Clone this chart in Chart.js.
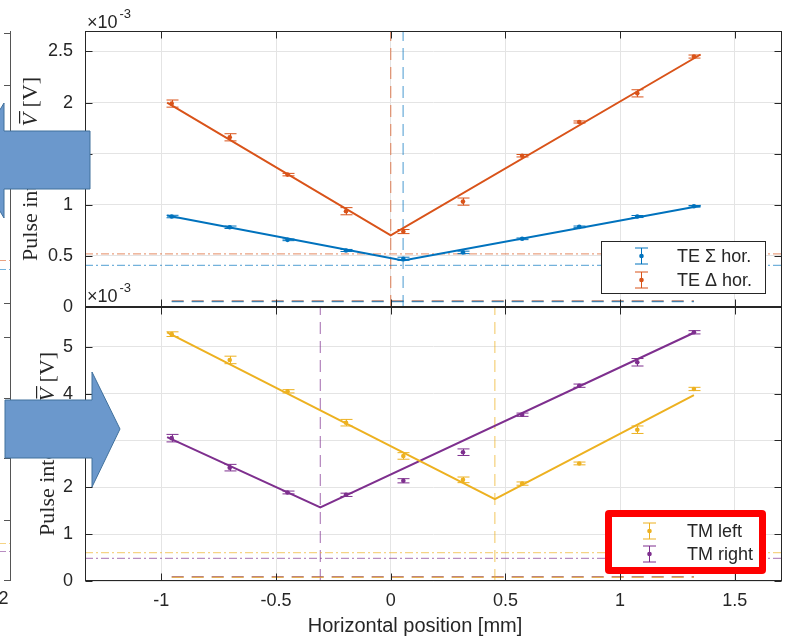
<!DOCTYPE html>
<html>
<head>
<meta charset="utf-8">
<script src="https://cdn.jsdelivr.net/npm/chart.js@4.4.0/dist/chart.umd.min.js"></script>
<style>
  html, body { margin: 0; padding: 0; background: #fff; }
  #wrap { position: relative; width: 786px; height: 641px; overflow: hidden; }
  #wrap canvas, #arrows { position: absolute; left: 0; top: 0; }
</style>
</head>
<body>
<div id="wrap">
  <canvas id="strip" width="786" height="641"></canvas>
  <canvas id="teChart" width="786" height="641"></canvas>
  <canvas id="tmChart" width="786" height="641"></canvas>
  <svg id="arrows" width="786" height="641">
    <polygon points="90,131 4,131 4,103 -30,160 4,218 4,189 90,189" fill="#6b98cc" stroke="#41719c" stroke-width="1"/>
    <polygon points="5,400 92,400 92,372 120,429 92,487 92,458 5,458" fill="#6b98cc" stroke="#41719c" stroke-width="1"/>
  </svg>
</div>
<script>
// horizontal scan positions [mm]
const xPos = [-0.955, -0.702, -0.450, -0.195, 0.055, 0.315, 0.573, 0.822, 1.075, 1.322];
const xRange = [-1.333, 1.706];
const xTicks = [-1, -0.5, 0, 0.5, 1, 1.5];

// TE panel (x1e-3 V)
const teSumHor  = [0.885, 0.780, 0.657, 0.553, 0.472, 0.534, 0.667, 0.784, 0.885, 0.985];
const teSumErr  = [0.012, 0.012, 0.008, 0.010, 0.015, 0.012, 0.008, 0.008, 0.010, 0.008];
const teDiffHor = [1.990, 1.660, 1.295, 0.937, 0.738, 1.031, 1.480, 1.810, 2.090, 2.450];
const teDiffErr = [0.035, 0.035, 0.012, 0.035, 0.020, 0.035, 0.012, 0.010, 0.035, 0.015];
const teSumFitX  = [-0.975, 0.054, 1.351];
const teSumFitY  = [0.895, 0.455, 0.990];
const teDiffFitX = [-0.975, 0.0, 1.351];
const teDiffFitY = [2.000, 0.700, 2.470];
const teLevels = [0.407, 0.520];   // Σ, Δ
const teNoise  = [0.055, 0.058];
const teYRange = [0, 2.7];
const teYTicks = [0, 0.5, 1, 1.5, 2, 2.5];

// TM panel (x1e-3 V)
const tmLeft     = [5.27, 4.72, 4.05, 3.38, 2.67, 2.16, 2.08, 2.51, 3.23, 4.10];
const tmLeftErr  = [0.05, 0.08, 0.035, 0.07, 0.07, 0.06, 0.035, 0.03, 0.08, 0.035];
const tmRight    = [3.05, 2.42, 1.89, 1.84, 2.14, 2.75, 3.55, 4.17, 4.67, 5.31];
const tmRightErr = [0.08, 0.07, 0.03, 0.035, 0.045, 0.07, 0.035, 0.035, 0.08, 0.035];
const tmLeftFitX  = [-0.975, 0.454, 1.322];
const tmLeftFitY  = [5.31, 1.75, 3.97];
const tmRightFitX = [-0.975, -0.307, 1.322];
const tmRightFitY = [3.07, 1.57, 5.30];
const tmLevels = [0.605, 0.485];   // left, right
const tmNoise  = [0.080, 0.090];
const tmYRange = [0, 5.85];
const tmYTicks = [0, 1, 2, 3, 4, 5];

const SANS = '"Liberation Sans", Arial, Helvetica, sans-serif';
const SERIF = '"Liberation Serif", "Times New Roman", serif';
const INK = '#262626';
const BLUE = '#0072BD', ORANGE = '#D95319', YELLOW = '#EDB120', PURPLE = '#7E2F8E';

function fade(hex, a) {
  const n = parseInt(hex.slice(1), 16);
  return `rgba(${n >> 16},${(n >> 8) & 255},${n & 255},${a})`;
}

const errorBars = {
  id: 'errorBars',
  afterDatasetsDraw(chart) {
    const { ctx, scales: { x, y } } = chart;
    chart.data.datasets.forEach(ds => {
      if (!ds.errors) return;
      ctx.save();
      ctx.strokeStyle = ds.barColor;
      ctx.lineWidth = 1;
      ds.data.forEach((p, i) => {
        const px = Math.round(x.getPixelForValue(p.x)) + 0.5;
        const lo = y.getPixelForValue(p.y - ds.errors[i]);
        const hi = y.getPixelForValue(p.y + ds.errors[i]);
        ctx.beginPath();
        ctx.moveTo(px, lo); ctx.lineTo(px, hi);
        ctx.moveTo(px - 6, lo); ctx.lineTo(px + 6, lo);
        ctx.moveTo(px - 6, hi); ctx.lineTo(px + 6, hi);
        ctx.stroke();
      });
      ctx.restore();
    });
  }
};

function drawGlyph(ctx, cx, cy, color) {
  ctx.strokeStyle = color; ctx.fillStyle = color; ctx.lineWidth = 1;
  ctx.beginPath();
  ctx.moveTo(cx + 0.5, cy - 8); ctx.lineTo(cx + 0.5, cy + 8);
  ctx.moveTo(cx - 6, cy - 8); ctx.lineTo(cx + 7, cy - 8);
  ctx.moveTo(cx - 6, cy + 8); ctx.lineTo(cx + 7, cy + 8);
  ctx.stroke();
  ctx.beginPath(); ctx.arc(cx + 0.5, cy, 2.3, 0, Math.PI * 2); ctx.fill();
}

// MATLAB-like box, inward ticks, exponent, y label and legend
const frame = {
  id: 'frame',
  afterDraw(chart, args, o) {
    const { ctx, chartArea: a, scales: { x, y } } = chart;
    ctx.save();
    const L = Math.round(a.left) + 0.5, R = Math.round(a.right) - 0.5;
    const T = Math.round(a.top) + 0.5, B = Math.round(a.bottom) - 0.5;
    ctx.strokeStyle = INK; ctx.lineWidth = 1;
    ctx.strokeRect(L, T, R - L, B - T);
    ctx.beginPath();
    x.ticks.forEach(t => {
      const px = Math.round(x.getPixelForValue(t.value)) + 0.5;
      ctx.moveTo(px, T); ctx.lineTo(px, T + 7);
      ctx.moveTo(px, B); ctx.lineTo(px, B - 7);
    });
    y.ticks.forEach(t => {
      const py = Math.round(y.getPixelForValue(t.value)) + 0.5;
      ctx.moveTo(L, py); ctx.lineTo(L + 7, py);
      ctx.moveTo(R, py); ctx.lineTo(R - 7, py);
    });
    ctx.stroke();

    // x10^-3 exponent
    ctx.fillStyle = INK; ctx.textAlign = 'left'; ctx.textBaseline = 'alphabetic';
    ctx.font = `18px ${SANS}`;
    ctx.fillText('\u00d710', a.left + 2, a.top - o.expGap);
    const w = ctx.measureText('\u00d710').width;
    ctx.font = `13px ${SANS}`;
    ctx.fillText('-3', a.left + 4 + w, a.top - o.expGap - 10);

    // y label: Pulse intensity \bar{V} [V]
    ctx.save();
    ctx.translate(o.yTitleX, (a.top + a.bottom) / 2);
    ctx.rotate(-Math.PI / 2);
    const parts = [
      { t: 'Pulse intensity ', f: `22px ${SERIF}` },
      { t: 'V', f: `italic 22px ${SERIF}`, bar: true },
      { t: ' [V]', f: `22px ${SERIF}` }
    ];
    let total = 0;
    parts.forEach(p => { ctx.font = p.f; p.w = ctx.measureText(p.t).width; total += p.w; });
    let cx = -total / 2;
    parts.forEach(p => {
      ctx.font = p.f;
      ctx.fillText(p.t, cx, 0);
      if (p.bar) {
        ctx.fillRect(cx + 3, -18, p.w - 1, 1.2);
      }
      cx += p.w;
    });
    ctx.restore();

    // x label
    if (o.xTitle) {
      ctx.font = `20px ${SANS}`; ctx.textAlign = 'center'; ctx.textBaseline = 'middle';
      ctx.fillText(o.xTitle, o.xTitleX, o.xTitleY);
    }

    // legend
    const lg = o.legend;
    if (lg.red) {
      ctx.fillStyle = '#fe0000';
      ctx.beginPath(); ctx.roundRect(lg.x, lg.y, lg.w, lg.h, 4); ctx.fill();
      ctx.fillStyle = '#fff';
      ctx.fillRect(lg.x + lg.red, lg.y + lg.red, lg.w - 2 * lg.red, lg.h - 2 * lg.red);
    } else {
      ctx.fillStyle = '#fff';
      ctx.fillRect(lg.x, lg.y, lg.w, lg.h);
      ctx.strokeStyle = INK;
      ctx.strokeRect(lg.x, lg.y, lg.w, lg.h);
    }
    ctx.font = `18px ${SANS}`; ctx.textAlign = 'left'; ctx.textBaseline = 'middle';
    lg.items.forEach((it, i) => {
      drawGlyph(ctx, lg.glyphX, lg.rows[i], it.color);
      ctx.fillStyle = INK;
      ctx.fillText(it.name, lg.textX, lg.rows[i] + 1);
    });
    ctx.restore();
  }
};

function buildDatasets(series, yRange) {
  const ds = [];
  series.forEach(s => {
    const pts = (xs, ys) => xs.map((v, i) => ({ x: v, y: ys[i] }));
    ds.push({ data: pts(s.fitX, s.fitY), borderColor: s.color, borderWidth: 2, pointRadius: 0, order: 1 });
    ds.push({ data: pts(xPos, s.y), showLine: false, pointRadius: 2.3, pointBorderWidth: 0,
      pointBackgroundColor: s.color, errors: s.err, barColor: s.color, order: 0 });
    ds.push({ data: pts(xRange, [s.level, s.level]), borderColor: fade(s.color, 0.55), borderWidth: 1.2,
      borderDash: [8, 3, 2, 3], pointRadius: 0, order: 2 });
    ds.push({ data: pts([xPos[0], xPos[xPos.length - 1]], [s.noise, s.noise]), borderColor: fade(s.color, 0.7),
      borderWidth: 1.5, borderDash: [12, 8], pointRadius: 0, order: 2 });
    ds.push({ data: pts([s.fitX[1], s.fitX[1]], yRange), borderColor: fade(s.color, 0.6), borderWidth: 1.2,
      borderDash: [12, 7], pointRadius: 0, order: 2 });
  });
  return ds;
}

function panel(id, series, yRange, yTicks, pad, showX, frameOpts) {
  const xHeight = showX ? 32 : 0;
  return new Chart(document.getElementById(id), {
    type: 'line',
    data: { datasets: buildDatasets(series, yRange) },
    options: {
      responsive: false,
      animation: false,
      events: [],
      layout: { padding: { left: pad.left, right: pad.right, top: pad.top, bottom: pad.bottom - xHeight } },
      plugins: { legend: { display: false }, tooltip: { enabled: false }, frame: frameOpts },
      scales: {
        x: {
          type: 'linear', min: xRange[0], max: xRange[1],
          afterBuildTicks: s => { s.ticks = xTicks.map(v => ({ value: v })); },
          afterFit: s => { s.height = xHeight; },
          grid: { color: '#e4e4e4', drawTicks: false },
          border: { display: false },
          ticks: { display: showX, padding: 9, maxRotation: 0, autoSkip: false, color: INK,
            font: { family: SANS, size: 18 }, callback: v => String(v) }
        },
        y: {
          min: yRange[0], max: yRange[1],
          afterBuildTicks: s => { s.ticks = yTicks.map(v => ({ value: v })); },
          afterFit: s => { s.width = 85; },
          grid: { color: '#e4e4e4', drawTicks: false },
          border: { display: false },
          ticks: { padding: 12, color: INK, font: { family: SANS, size: 18 }, callback: v => String(v) }
        }
      }
    },
    plugins: [errorBars, frame]
  });
}

const teSeries = [
  { name: 'TE \u03a3 hor.', color: BLUE, y: teSumHor, err: teSumErr, fitX: teSumFitX, fitY: teSumFitY, level: teLevels[0], noise: teNoise[0] },
  { name: 'TE \u0394 hor.', color: ORANGE, y: teDiffHor, err: teDiffErr, fitX: teDiffFitX, fitY: teDiffFitY, level: teLevels[1], noise: teNoise[1] }
];
const tmSeries = [
  { name: 'TM left', color: YELLOW, y: tmLeft, err: tmLeftErr, fitX: tmLeftFitX, fitY: tmLeftFitY, level: tmLevels[0], noise: tmNoise[0] },
  { name: 'TM right', color: PURPLE, y: tmRight, err: tmRightErr, fitX: tmRightFitX, fitY: tmRightFitY, level: tmLevels[1], noise: tmNoise[1] }
];

panel('teChart', teSeries, teYRange, teYTicks, { left: 0, right: 3, top: 31, bottom: 334 }, false, {
  expGap: 3, yTitleX: 37,
  legend: { x: 601.5, y: 241.5, w: 164, h: 52, rows: [256, 280], glyphX: 641, textX: 677,
    items: teSeries.map(s => ({ name: s.name, color: s.color })) }
});
panel('tmChart', tmSeries, tmYRange, tmYTicks, { left: 0, right: 3, top: 307, bottom: 60 }, true, {
  expGap: 5, yTitleX: 54,
  xTitle: 'Horizontal position [mm]', xTitleX: 415, xTitleY: 626,
  legend: { x: 605, y: 510, w: 161, h: 64, red: 7, rows: [531, 554], glyphX: 649, textX: 687,
    items: tmSeries.map(s => ({ name: s.name, color: s.color })) }
});

// edge of the neighbouring figure on the left
(function () {
  const ctx = document.getElementById('strip').getContext('2d');
  ctx.strokeStyle = '#555'; ctx.lineWidth = 1;
  ctx.beginPath();
  ctx.moveTo(10.5, 31); ctx.lineTo(10.5, 581);
  [33, 85, 303, 337, 398, 458, 520, 580].forEach(yy => { ctx.moveTo(4, yy + 0.5); ctx.lineTo(10, yy + 0.5); });
  ctx.stroke();
  ctx.setLineDash([6, 3, 2, 3]);
  [[260, ORANGE], [269, BLUE], [543, YELLOW], [551, PURPLE]].forEach(([yy, c]) => {
    ctx.strokeStyle = fade(c, 0.55);
    ctx.beginPath(); ctx.moveTo(0, yy + 0.5); ctx.lineTo(10, yy + 0.5); ctx.stroke();
  });
  ctx.fillStyle = INK; ctx.font = `18px ${SANS}`; ctx.textAlign = 'center'; ctx.textBaseline = 'middle';
  ctx.fillText('2', 3.5, 599);
})();
</script>
</body>
</html>
